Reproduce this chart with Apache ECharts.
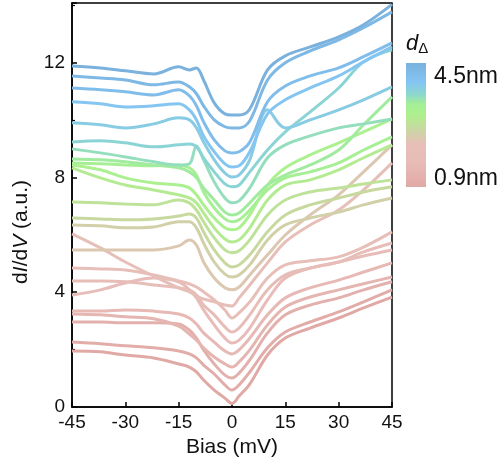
<!DOCTYPE html>
<html>
<head>
<meta charset="utf-8">
<script src="https://cdn.jsdelivr.net/npm/echarts@6/dist/echarts.min.js"></script>
<style>
  html, body { margin: 0; padding: 0; background: #ffffff; }
  #chart { width: 504px; height: 473px; }
</style>
</head>
<body>
<div id="chart"></div>
<script>
// Bias sample points (mV) shared by every spectrum
const biasMV = [-45, -37, -30, -22, -15, -12, -10, -8, -5, -2, 0, 2, 5, 10, 15, 22, 30, 37, 45];

// Thickness of each spectrum (nm), bottom trace first
const thicknessNm = [0.9, 1.05, 1.2, 1.35, 1.5, 1.65, 1.8, 1.95, 2.1, 2.3, 2.45, 2.6,
                     2.75, 2.9, 3.05, 3.2, 3.35, 3.5, 3.65, 3.8, 3.95, 4.15, 4.3, 4.5];

// dI/dV spectra (a.u., vertically offset), bottom trace first
const s01 = [1.95, 1.92, 1.81, 1.71, 1.50, 1.39, 1.22, 0.94, 0.59, 0.31, 0.12, 0.38, 0.80, 1.81, 2.40, 2.75, 3.10, 3.45, 3.83];
const s02 = [2.26, 2.20, 2.13, 2.06, 1.95, 1.85, 1.71, 1.46, 1.15, 0.77, 0.59, 0.77, 1.22, 2.06, 2.61, 2.96, 3.31, 3.66, 4.08];
const s03 = [2.96, 2.96, 2.93, 2.93, 2.89, 2.68, 2.40, 1.99, 1.50, 1.11, 1.01, 1.18, 1.64, 2.58, 3.21, 3.55, 3.80, 4.08, 4.36];
const s04 = [3.24, 3.21, 3.14, 3.07, 2.82, 2.54, 2.33, 2.06, 1.74, 1.50, 1.39, 1.57, 1.99, 2.86, 3.48, 3.83, 4.08, 4.29, 4.53];
const s05 = [3.34, 3.34, 3.38, 3.34, 3.24, 3.10, 2.89, 2.58, 2.26, 1.95, 1.85, 1.99, 2.40, 3.21, 3.80, 4.15, 4.42, 4.70, 5.02];
const s06 = [3.90, 4.08, 4.32, 4.49, 4.36, 4.08, 3.80, 3.38, 2.86, 2.40, 2.23, 2.33, 2.75, 3.73, 4.49, 4.84, 5.05, 5.26, 5.47];
const s07 = [4.39, 4.39, 4.36, 4.25, 4.15, 4.08, 3.90, 3.55, 3.21, 2.79, 2.61, 2.75, 3.21, 4.08, 4.60, 4.84, 5.05, 5.40, 5.71];
const s08 = [4.84, 4.81, 4.77, 4.60, 4.39, 4.29, 4.18, 4.01, 3.73, 3.38, 3.10, 3.28, 3.66, 4.49, 4.95, 5.09, 5.23, 5.57, 6.10];
const s09 = [6.03, 5.54, 5.05, 4.56, 4.15, 4.01, 3.87, 3.76, 3.66, 3.55, 3.52, 3.80, 4.25, 5.02, 5.75, 6.34, 6.86, 7.56, 8.50];
const s10 = [5.47, 5.47, 5.47, 5.47, 5.61, 5.82, 5.64, 5.05, 4.49, 4.15, 4.08, 4.18, 4.60, 5.30, 5.99, 6.69, 7.39, 8.19, 9.13];
const s11 = [6.34, 6.31, 6.24, 6.27, 6.45, 6.45, 6.24, 5.71, 5.05, 4.63, 4.53, 4.60, 4.95, 5.82, 6.34, 6.58, 6.79, 7.04, 7.28];
const s12 = [6.58, 6.55, 6.52, 6.55, 6.65, 6.72, 6.58, 6.10, 5.47, 5.02, 4.88, 4.95, 5.30, 6.10, 6.69, 7.04, 7.28, 7.49, 7.67];
const s13 = [7.14, 7.11, 7.07, 7.04, 7.21, 7.11, 6.86, 6.45, 5.89, 5.47, 5.37, 5.44, 5.82, 6.69, 7.21, 7.49, 7.63, 7.77, 7.91];
const s14 = [8.33, 7.98, 7.73, 7.56, 7.39, 7.28, 7.11, 6.76, 6.24, 5.85, 5.75, 5.82, 6.24, 7.21, 7.73, 7.91, 8.26, 8.68, 9.13];
const s15 = [8.43, 8.26, 7.98, 7.80, 7.73, 7.63, 7.39, 7.04, 6.58, 6.24, 6.17, 6.24, 6.69, 7.73, 8.33, 8.78, 9.20, 9.58, 10.03];
const s16 = [8.50, 8.47, 8.43, 8.40, 8.43, 8.33, 8.08, 7.49, 6.93, 6.55, 6.45, 6.52, 6.86, 7.56, 7.98, 8.19, 8.50, 8.95, 9.41];
const s17 = [8.64, 8.61, 8.54, 8.43, 8.33, 8.19, 7.98, 7.63, 7.21, 6.79, 6.69, 6.76, 7.11, 7.73, 8.08, 8.43, 8.95, 9.83, 10.80];
const s18 = [8.99, 8.85, 8.71, 8.54, 8.43, 8.47, 9.09, 8.61, 7.84, 7.28, 7.11, 7.18, 7.63, 8.68, 9.13, 9.44, 9.72, 9.86, 10.03];
const s19 = [9.23, 9.27, 9.20, 9.06, 9.13, 9.16, 9.06, 8.68, 8.19, 7.77, 7.67, 7.73, 8.19, 8.95, 9.58, 10.28, 11.11, 12.02, 12.44];
const s20 = [9.90, 9.83, 9.72, 9.86, 10.07, 10.00, 9.72, 9.23, 8.61, 8.15, 8.01, 8.08, 8.61, 10.35, 9.72, 10.00, 10.35, 10.70, 11.15];
const s21 = [10.63, 10.56, 10.45, 10.49, 10.56, 10.35, 10.00, 9.44, 8.89, 8.47, 8.36, 8.40, 8.89, 10.21, 10.70, 11.11, 11.53, 12.02, 12.54];
const s22 = [11.11, 11.05, 10.98, 10.87, 11.05, 10.84, 10.49, 9.93, 9.30, 8.92, 8.85, 8.89, 9.23, 10.63, 11.18, 11.53, 11.81, 12.20, 12.68];
const s23 = [11.53, 11.46, 11.39, 11.22, 11.32, 11.15, 10.91, 10.49, 10.00, 9.76, 9.72, 9.72, 9.97, 11.39, 11.99, 12.40, 12.79, 13.21, 13.76];
const s24 = [11.88, 11.81, 11.71, 11.60, 11.85, 11.74, 11.81, 11.39, 10.59, 10.21, 10.17, 10.17, 10.38, 11.74, 12.23, 12.54, 12.89, 13.31, 14.02];

const spectra = [s01, s02, s03, s04, s05, s06, s07, s08, s09, s10, s11, s12,
                 s13, s14, s15, s16, s17, s18, s19, s20, s21, s22, s23, s24];

// Colour scale for thickness: position 0 = 4.5 nm (top), 1 = 0.9 nm (bottom)
const dMax = 4.5, dMin = 0.9;
const colorStops = [
  [0.00, '#7ab1dd'], [0.15, '#84c4f2'], [0.25, '#8cd6d0'], [0.33, '#a4ee98'],
  [0.42, '#aef08e'], [0.55, '#cdd4a4'], [0.65, '#e6bfb8'], [0.80, '#e8bcb8'], [1.00, '#e0a9a5']
];

function hexToRgb(h) {
  return [parseInt(h.slice(1, 3), 16), parseInt(h.slice(3, 5), 16), parseInt(h.slice(5, 7), 16)];
}
function colorFor(d) {
  const t = Math.min(1, Math.max(0, (dMax - d) / (dMax - dMin)));
  for (let i = 1; i < colorStops.length; i++) {
    if (t <= colorStops[i][0]) {
      const [t0, c0] = colorStops[i - 1];
      const [t1, c1] = colorStops[i];
      const k = (t - t0) / (t1 - t0);
      const a = hexToRgb(c0), b = hexToRgb(c1);
      return 'rgb(' + a.map((v, j) => Math.round(v + (b[j] - v) * k)).join(',') + ')';
    }
  }
  return colorStops[colorStops.length - 1][1];
}

const FONT = '"Liberation Sans", Arial, Helvetica, sans-serif';

const series = spectra.map((vals, i) => ({
  type: 'line',
  name: thicknessNm[i] + ' nm',
  data: biasMV.map((v, j) => [v, vals[j]]),
  showSymbol: false,
  smooth: 0.35,
  silent: true,
  lineStyle: { width: 3, color: colorFor(thicknessNm[i]) },
  z: 2 + i
}));

const chart = echarts.init(document.getElementById('chart'), null, { renderer: 'canvas' });

chart.setOption({
  animation: false,
  backgroundColor: '#ffffff',
  grid: {
    left: 72, right: 112, top: 3, bottom: 66,
    show: true, borderColor: '#000', borderWidth: 1.5, backgroundColor: 'transparent'
  },
  xAxis: {
    type: 'value', min: -45, max: 45, interval: 15,
    name: 'Bias (mV)', nameLocation: 'middle', nameGap: 30,
    nameTextStyle: { fontFamily: FONT, fontSize: 21, color: '#111' },
    axisLine: { onZero: false, lineStyle: { color: '#000', width: 1.5 } },
    axisTick: { inside: true, length: 5, lineStyle: { color: '#000', width: 1.5 } },
    axisLabel: { fontFamily: FONT, fontSize: 19, color: '#111', margin: 6 },
    splitLine: { show: false }
  },
  yAxis: {
    type: 'value', min: 0, max: 14.07, interval: 4,
    axisLine: { onZero: false, lineStyle: { color: '#000', width: 1.5 } },
    axisTick: { inside: true, length: 5, lineStyle: { color: '#000', width: 1.5 } },
    minorTick: { show: true, splitNumber: 2, length: 3, lineStyle: { color: '#000', width: 1.2 } },
    axisLabel: { fontFamily: FONT, fontSize: 19, color: '#111', margin: 7, showMaxLabel: false },
    splitLine: { show: false }
  },
  series: series,
  graphic: [
    {
      type: 'text', left: 11, top: 180, rotation: Math.PI / 2,
      style: {
        text: '{n|d}{i|I}{n|/d}{i|V}{n| (a.u.)}',
        fill: '#111',
        rich: {
          n: { fontFamily: FONT, fontSize: 21, fill: '#111' },
          i: { fontFamily: FONT, fontSize: 21, fontStyle: 'italic', fill: '#111' }
        }
      }
    },
    {
      type: 'text', left: 406, top: 33,
      style: {
        text: '{d|d}{s|Δ}',
        rich: {
          d: { fontFamily: FONT, fontSize: 22, fontStyle: 'italic', fill: '#111' },
          s: { fontFamily: FONT, fontSize: 15, fill: '#111', padding: [10, 0, 0, 0] }
        }
      }
    },
    {
      type: 'rect', shape: { x: 406, y: 63, width: 20, height: 124 },
      style: {
        fill: new echarts.graphic.LinearGradient(0, 0, 0, 1,
          colorStops.map(s => ({ offset: s[0], color: s[1] })))
      }
    },
    {
      type: 'text', x: 434, y: 77,
      style: { text: dMax + 'nm', fontFamily: FONT, fontSize: 23, fill: '#111', verticalAlign: 'middle' }
    },
    {
      type: 'text', x: 434, y: 179,
      style: { text: dMin + 'nm', fontFamily: FONT, fontSize: 23, fill: '#111', verticalAlign: 'middle' }
    }
  ]
});
</script>
</body>
</html>
